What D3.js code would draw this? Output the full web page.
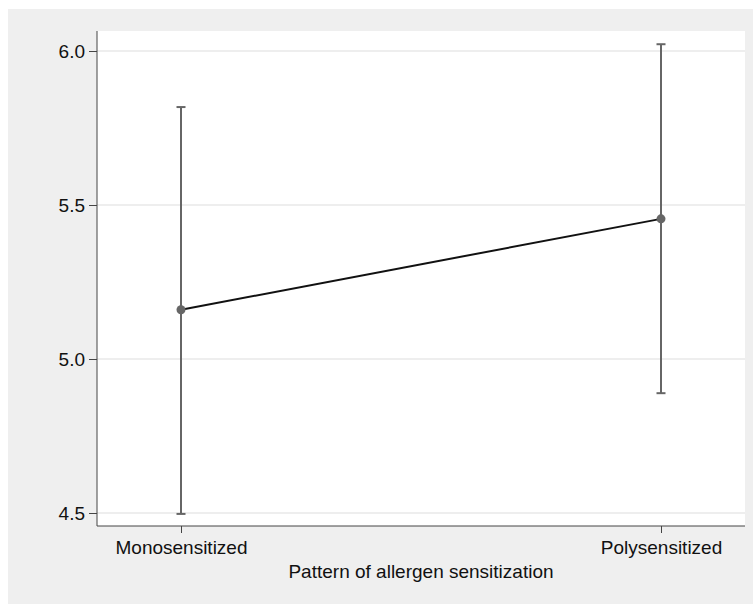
<!DOCTYPE html>
<html>
<head>
<script src="https://d3js.org/d3.v7.min.js"></script>
<style>
body { margin: 0; background: #fff; }
text { font-family: "Liberation Sans", Arial, sans-serif; fill: #111; }
</style>
</head>
<body>
<svg id="chart" width="753" height="604"></svg>
<script>
// values
var groups = ["Monosensitized", "Polysensitized"];
var means = [5.16, 5.455];
var lower = [4.497, 4.889];
var upper = [5.818, 6.022];
var yTicks = [4.5, 5.0, 5.5, 6.0];
var xTitle = "Pattern of allergen sensitization";

var svg = d3.select("#chart");

// grey graph region
svg.append("rect")
    .attr("x", 8).attr("y", 9)
    .attr("width", 745).attr("height", 595)
    .attr("fill", "#efefef");

var pLeft = 97, pRight = 745, pTop = 31, pBottom = 526;

// white plot region
svg.append("rect")
    .attr("x", pLeft).attr("y", pTop)
    .attr("width", pRight - pLeft).attr("height", pBottom - pTop)
    .attr("fill", "#fff");

var y = d3.scaleLinear().domain([4.5, 6.0]).range([513, 51]);
var x = d3.scalePoint().domain(groups).range([181, 661]);

// gridlines
svg.selectAll("line.grid")
    .data(yTicks)
    .enter().append("line")
      .attr("class", "grid")
      .attr("x1", pLeft).attr("x2", pRight)
      .attr("y1", function(d) { return y(d); })
      .attr("y2", function(d) { return y(d); })
      .attr("stroke", "#e8e8e8")
      .attr("stroke-width", 1.5);

// y axis
var yAxis = svg.append("g")
    .attr("transform", "translate(" + pLeft + ",0)")
    .call(d3.axisLeft(y).tickValues(yTicks).tickFormat(d3.format(".1f")).tickSize(8).tickPadding(4));
yAxis.select(".domain").attr("d", "M0," + pTop + "V" + pBottom).attr("stroke", "#444");

// x axis
var xAxis = svg.append("g")
    .attr("transform", "translate(0," + pBottom + ")")
    .call(d3.axisBottom(x).tickSize(7).tickPadding(8));
xAxis.select(".domain").attr("d", "M" + pLeft + ",0H" + pRight).attr("stroke", "#444");

svg.selectAll(".tick line").attr("stroke", "#444");
svg.selectAll(".tick text")
    .attr("font-size", "19px")
    .attr("fill", "#111");

// axis title
svg.append("text")
    .attr("x", (pLeft + pRight) / 2)
    .attr("y", 578)
    .attr("text-anchor", "middle")
    .attr("font-size", "19px")
    .text(xTitle);

var rows = groups.map(function(g, i) {
  return {g: g, m: means[i], lo: lower[i], hi: upper[i]};
});

// error bars
var bars = svg.selectAll("g.err")
    .data(rows)
    .enter().append("g")
      .attr("class", "err")
      .attr("stroke", "#666")
      .attr("stroke-width", 2);
bars.append("line")
    .attr("x1", function(d) { return x(d.g); })
    .attr("x2", function(d) { return x(d.g); })
    .attr("y1", function(d) { return y(d.lo); })
    .attr("y2", function(d) { return y(d.hi); });
bars.append("line")
    .attr("x1", function(d) { return x(d.g) - 4.5; })
    .attr("x2", function(d) { return x(d.g) + 4.5; })
    .attr("y1", function(d) { return y(d.hi); })
    .attr("y2", function(d) { return y(d.hi); });
bars.append("line")
    .attr("x1", function(d) { return x(d.g) - 4.5; })
    .attr("x2", function(d) { return x(d.g) + 4.5; })
    .attr("y1", function(d) { return y(d.lo); })
    .attr("y2", function(d) { return y(d.lo); });

// connecting line
svg.append("path")
    .datum(rows)
    .attr("fill", "none")
    .attr("stroke", "#111")
    .attr("stroke-width", 2)
    .attr("d", d3.line()
      .x(function(d) { return x(d.g); })
      .y(function(d) { return y(d.m); }));

// markers
svg.selectAll("circle")
    .data(rows)
    .enter().append("circle")
      .attr("cx", function(d) { return x(d.g); })
      .attr("cy", function(d) { return y(d.m); })
      .attr("r", 4.5)
      .attr("fill", "#666");
</script>
</body>
</html>
